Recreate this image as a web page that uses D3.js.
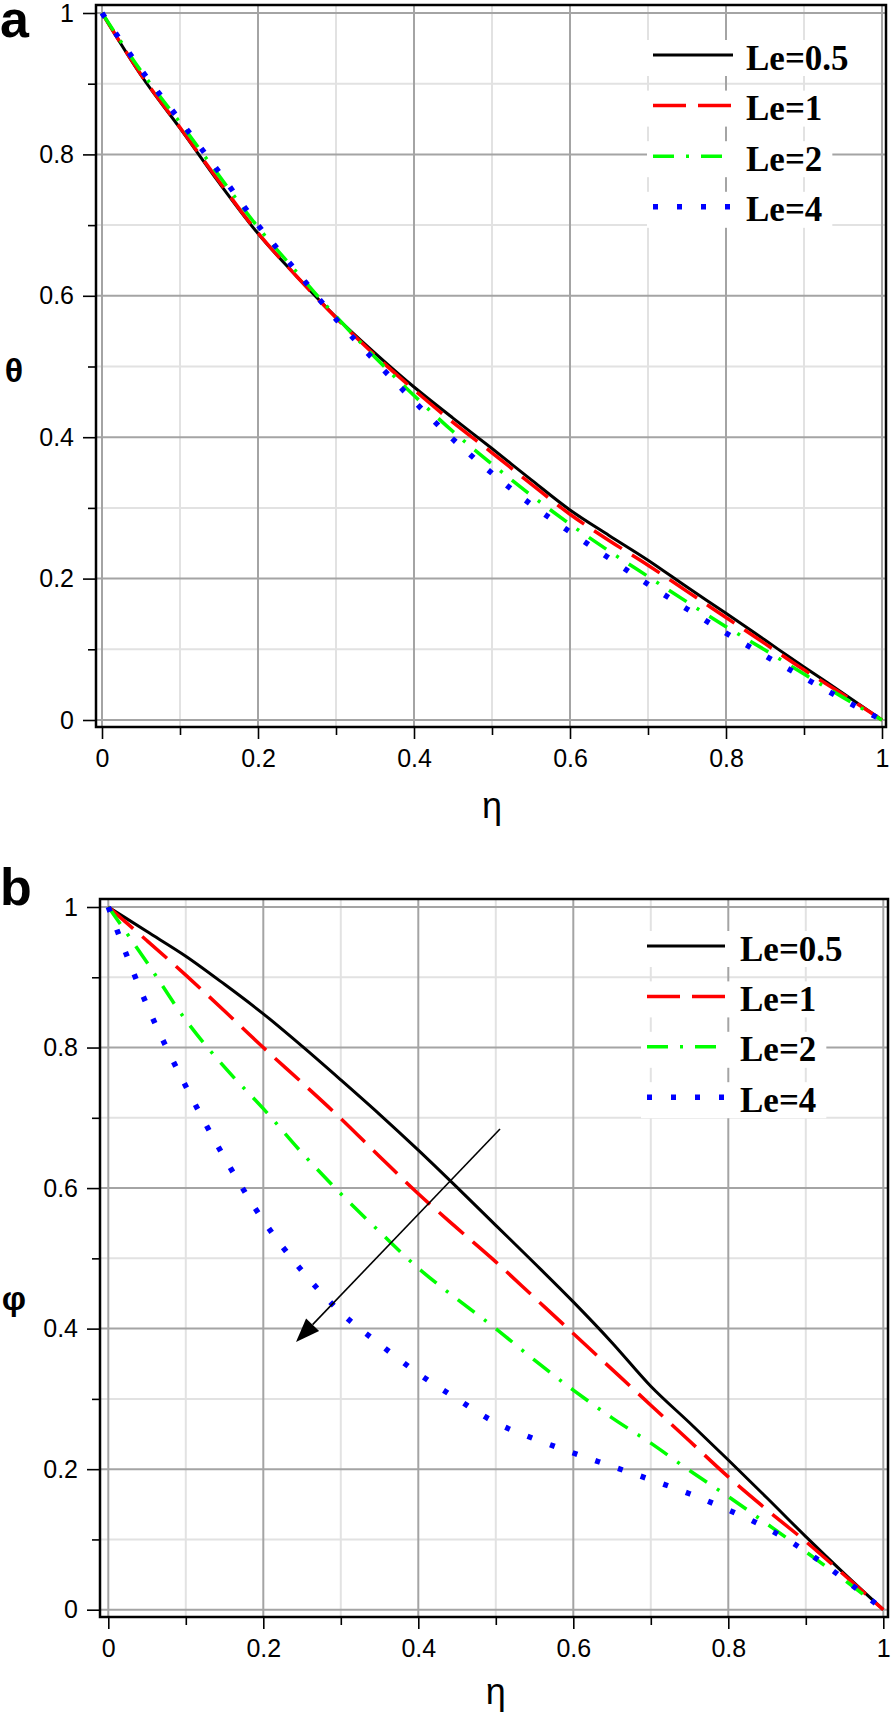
<!DOCTYPE html>
<html><head><meta charset="utf-8">
<script src="https://cdn.jsdelivr.net/npm/d3@7"></script>
<style>body{margin:0;background:#fff}svg{display:block}</style>
</head><body>
<script>
// ---- data ----
const eta = [0,0.05,0.1,0.15,0.2,0.25,0.3,0.35,0.4,0.45,0.5,0.55,0.6,0.65,0.7,0.75,0.8,0.85,0.9,0.95,1];
const thetaLe05 = [1,0.912,0.837,0.760,0.688,0.627,0.570,0.519,0.471,0.427,0.384,0.340,0.297,0.261,0.226,0.188,0.151,0.113,0.075,0.038,0];
const thetaLe1  = [1,0.913,0.838,0.762,0.689,0.627,0.569,0.516,0.467,0.421,0.378,0.334,0.291,0.254,0.219,0.182,0.145,0.108,0.071,0.036,0];
const thetaLe2  = [1,0.918,0.845,0.770,0.697,0.633,0.571,0.513,0.459,0.408,0.362,0.318,0.277,0.239,0.203,0.167,0.132,0.099,0.065,0.032,0];
const thetaLe4  = [1,0.920,0.848,0.775,0.700,0.634,0.567,0.508,0.451,0.397,0.349,0.305,0.266,0.229,0.192,0.157,0.123,0.091,0.060,0.029,0];
const phiLe05 = [1,0.965,0.930,0.890,0.848,0.802,0.754,0.705,0.654,0.601,0.547,0.493,0.438,0.380,0.318,0.266,0.213,0.159,0.104,0.051,0];
const phiLe1  = [1,0.952,0.903,0.852,0.800,0.750,0.699,0.645,0.592,0.543,0.495,0.444,0.393,0.342,0.291,0.240,0.189,0.142,0.097,0.049,0];
const phiLe2  = [1,0.921,0.839,0.772,0.713,0.650,0.592,0.538,0.486,0.442,0.400,0.355,0.3125,0.273,0.237,0.198,0.161,0.122,0.0825,0.042,0];
const phiLe4  = [1,0.860,0.745,0.643,0.554,0.482,0.423,0.378,0.336,0.300,0.266,0.243,0.223,0.204,0.185,0.165,0.142,0.116,0.083,0.043,0];
const seriesLabels = ["Le=0.5","Le=1","Le=2","Le=4"];
const majorTicks = [0,0.2,0.4,0.6,0.8,1];
const minorTicks = [0.1,0.3,0.5,0.7,0.9];
const tickLabels = ["0","0.2","0.4","0.6","0.8","1"];
const xLabel = "η";

// ---- styles ----
const styles = [
  {color:"#000000", width:3,   dash:null},
  {color:"#ff0000", width:3.5, dash:"33,12"},
  {color:"#00ff00", width:3.5, dash:"21,12,3,12"},
  {color:"#0000ff", width:5.5, dash:"5,19"}
];

const W = 894, H = 1715;
const svg = d3.select("body").append("svg").attr("width", W).attr("height", H);

const panels = [
  {letter:"a", ylab:"θ", data:[thetaLe05,thetaLe1,thetaLe2,thetaLe4],
   frame:{l:96,r:886,t:5,b:727}, xr:[102,882], yr:[720,13],
   letterPos:[0,37], ylabPos:[14,382], xlabY:818,
   leg:{top:55, step:50.6, lx0:653, lx1:733, tx:746}},
  {letter:"b", ylab:"φ", data:[phiLe05,phiLe1,phiLe2,phiLe4],
   frame:{l:100,r:888,t:899,b:1617}, xr:[108.3,883.3], yr:[1609.7,907],
   letterPos:[0,905], ylabPos:[14,1310], xlabY:1704,
   leg:{top:946, step:50.4, lx0:647, lx1:725, tx:740},
   arrow:{from:[500,1129], to:[296,1342]}}
];

panels.forEach(p => {
  const g = svg.append("g");
  const x = d3.scaleLinear().domain([0,1]).range(p.xr);
  const y = d3.scaleLinear().domain([0,1]).range(p.yr);
  const f = p.frame;

  // grid
  const gridSets = [{vals:minorTicks, col:"#e2e2e2"}, {vals:majorTicks, col:"#a4a4a4"}];
  gridSets.forEach(s => {
    g.append("g").selectAll("line.v").data(s.vals).join("line")
      .attr("x1", d=>x(d)).attr("x2", d=>x(d)).attr("y1", f.t).attr("y2", f.b)
      .attr("stroke", s.col).attr("stroke-width", 2);
    g.append("g").selectAll("line.h").data(s.vals).join("line")
      .attr("y1", d=>y(d)).attr("y2", d=>y(d)).attr("x1", f.l).attr("x2", f.r)
      .attr("stroke", s.col).attr("stroke-width", 2);
  });

  // legend backgrounds + entries
  const lg = g.append("g");
  seriesLabels.forEach((lab, i) => {
    const ly = p.leg.top + i * p.leg.step;
    const t = lg.append("text").attr("x", p.leg.tx).attr("y", ly + 14.5)
      .attr("font-family", "Liberation Serif, Times New Roman, serif")
      .attr("font-weight", "bold").attr("font-size", 35).text(lab);
    const tw = t.node().getComputedTextLength();
    lg.insert("rect", "text").attr("x", p.leg.lx0 - 6).attr("y", ly - 15)
      .attr("width", p.leg.tx + tw + 10 - (p.leg.lx0 - 6)).attr("height", 36)
      .attr("fill", "#fff");
    const st = styles[i];
    lg.append("line").attr("x1", p.leg.lx0).attr("x2", p.leg.lx1)
      .attr("y1", ly).attr("y2", ly)
      .attr("stroke", st.color).attr("stroke-width", st.width)
      .attr("stroke-dasharray", st.dash);
  });

  // curves
  const line = d3.line().x((d,i)=>x(eta[i])).y(d=>y(d)).curve(d3.curveMonotoneX);
  p.data.forEach((ser, i) => {
    const st = styles[i];
    g.append("path").attr("d", line(ser)).attr("fill","none")
      .attr("stroke", st.color).attr("stroke-width", st.width)
      .attr("stroke-dasharray", st.dash);
  });

  // arrow
  if (p.arrow) {
    const [x1,y1] = p.arrow.from, [x2,y2] = p.arrow.to;
    const ang = Math.atan2(y2-y1, x2-x1);
    const L = 24, hw = 9;
    const bx = x2 - L*Math.cos(ang), by = y2 - L*Math.sin(ang);
    g.append("line").attr("x1",x1).attr("y1",y1).attr("x2",bx).attr("y2",by)
      .attr("stroke","#000").attr("stroke-width",1.6);
    g.append("path").attr("d", `M${x2},${y2}L${bx - hw*Math.sin(ang)},${by + hw*Math.cos(ang)}L${bx + hw*Math.sin(ang)},${by - hw*Math.cos(ang)}Z`)
      .attr("fill","#000");
  }

  // frame
  g.append("rect").attr("x", f.l).attr("y", f.t).attr("width", f.r-f.l).attr("height", f.b-f.t)
    .attr("fill","none").attr("stroke","#000").attr("stroke-width",2.5);

  // axes
  const fontTick = "Liberation Sans, Arial, sans-serif";
  const xa = g.append("g").attr("transform", `translate(0,${f.b})`)
    .call(d3.axisBottom(x).tickValues(majorTicks).tickSize(12).tickSizeOuter(0).tickPadding(10)
      .tickFormat((d,i)=>tickLabels[i]));
  const xm = g.append("g").attr("transform", `translate(0,${f.b})`)
    .call(d3.axisBottom(x).tickValues(minorTicks).tickSize(8).tickSizeOuter(0).tickFormat(""));
  const ya = g.append("g").attr("transform", `translate(${f.l},0)`)
    .call(d3.axisLeft(y).tickValues(majorTicks).tickSize(13).tickSizeOuter(0).tickPadding(9)
      .tickFormat((d,i)=>tickLabels[i]));
  const ym = g.append("g").attr("transform", `translate(${f.l},0)`)
    .call(d3.axisLeft(y).tickValues(minorTicks).tickSize(8).tickSizeOuter(0).tickFormat(""));
  [xa,xm,ya,ym].forEach(a => {
    a.select(".domain").remove();
    a.selectAll("line").attr("stroke","#000").attr("stroke-width",1.6);
    a.selectAll("text").attr("font-family", fontTick).attr("font-size", 25).attr("fill","#000");
  });

  // labels
  g.append("text").attr("x", p.letterPos[0]).attr("y", p.letterPos[1])
    .attr("font-family","Liberation Sans, Arial, sans-serif").attr("font-weight","bold")
    .attr("font-size", 52).text(p.letter);
  g.append("text").attr("x", p.ylabPos[0]).attr("y", p.ylabPos[1]).attr("text-anchor","middle")
    .attr("font-family","Liberation Sans, Arial, sans-serif").attr("font-weight","bold")
    .attr("font-size", 34).text(p.ylab);
  g.append("text").attr("x", (x(0)+x(1))/2).attr("y", p.xlabY).attr("text-anchor","middle")
    .attr("font-family","Liberation Sans, Arial, sans-serif")
    .attr("font-size", 36).text(xLabel);
});
</script>
</body></html>
